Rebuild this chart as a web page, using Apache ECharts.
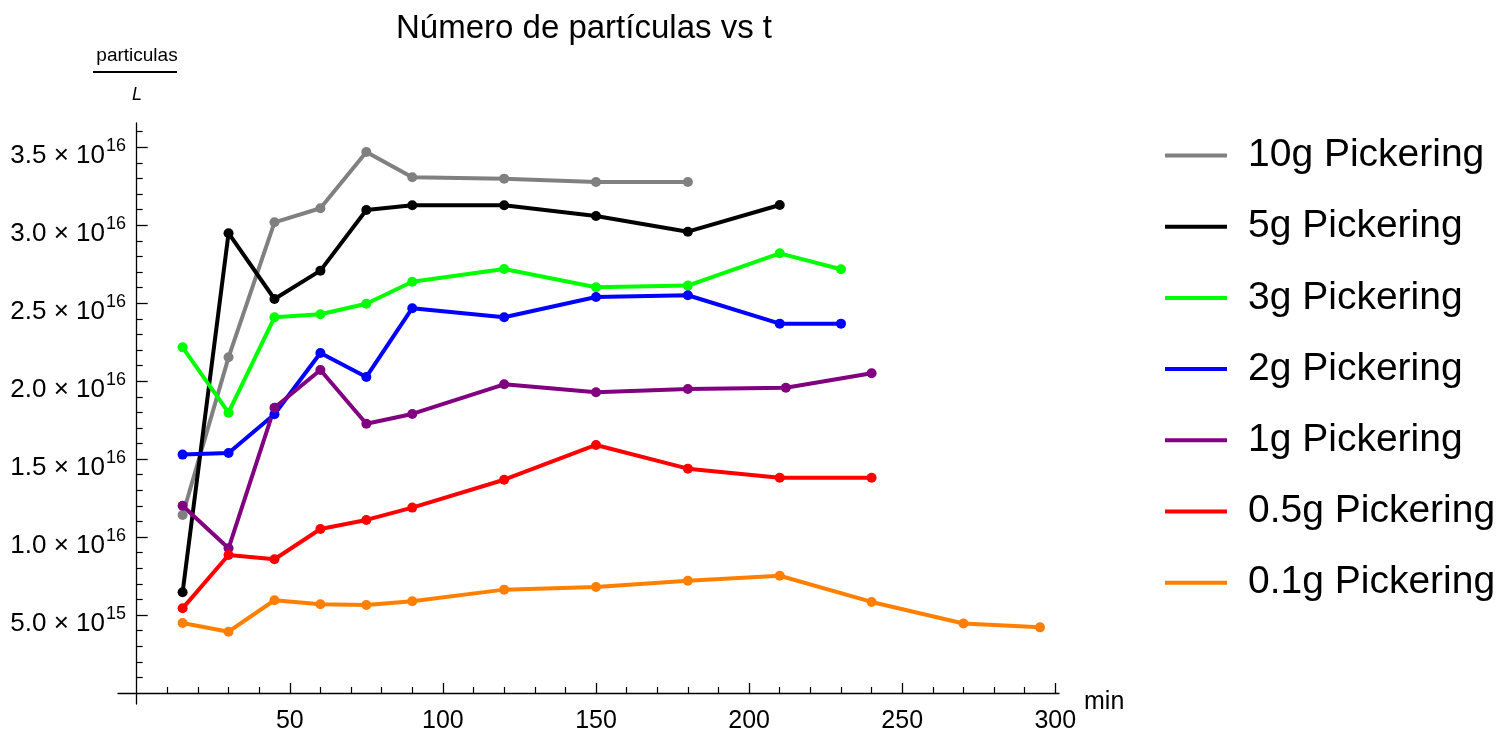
<!DOCTYPE html>
<html>
<head>
<meta charset="utf-8">
<script src="https://cdn.jsdelivr.net/npm/echarts@6/dist/echarts.min.js"></script>
<style>
  html, body { margin: 0; padding: 0; background: #fff; }
  #chart { width: 1506px; height: 732px; }
</style>
</head>
<body>
<div id="chart"></div>
<script>
// Particle concentration (particles per litre, in units of 1e15) against time in minutes
const seriesNames = ['10g Pickering', '5g Pickering', '3g Pickering', '2g Pickering',
                     '1g Pickering', '0.5g Pickering', '0.1g Pickering'];
const seriesColors = ['#808080', '#000000', '#00ff00', '#0000ff', '#800080', '#ff0000', '#ff8000'];

const t10g  = [15, 30, 45, 60, 75, 90, 120, 150, 180];
const v10g  = [11.42, 21.53, 30.19, 31.09, 34.70, 33.08, 32.99, 32.78, 32.78];

const t5g   = [15, 30, 45, 60, 75, 90, 120, 150, 180, 210];
const v5g   = [6.46, 29.49, 25.27, 27.09, 30.98, 31.28, 31.28, 30.60, 29.59, 31.30];

const t3g   = [15, 30, 45, 60, 75, 90, 120, 150, 180, 210, 230];
const v3g   = [22.17, 17.98, 24.10, 24.29, 24.97, 26.38, 27.20, 26.02, 26.13, 28.20, 27.18];

const t2g   = [15, 30, 45, 60, 75, 90, 120, 150, 180, 210, 230];
const v2g   = [15.29, 15.39, 17.88, 21.81, 20.27, 24.68, 24.10, 25.40, 25.51, 23.69, 23.69];

const t1g   = [15, 30, 45, 60, 75, 90, 120, 150, 180, 212, 240];
const v1g   = [12.01, 9.28, 18.30, 20.72, 17.27, 17.90, 19.80, 19.29, 19.50, 19.58, 20.51];

const t05g  = [15, 30, 45, 60, 75, 90, 120, 150, 180, 210, 240];
const v05g  = [5.43, 8.85, 8.58, 10.52, 11.10, 11.89, 13.68, 15.91, 14.39, 13.81, 13.81];

const t01g  = [15, 30, 45, 60, 75, 90, 120, 150, 180, 210, 240, 270, 295];
const v01g  = [4.49, 3.93, 5.95, 5.69, 5.64, 5.88, 6.63, 6.80, 7.20, 7.52, 5.84, 4.46, 4.21];

const xMajorTicks = [50, 100, 150, 200, 250, 300];
const yMajorTicks = [5, 10, 15, 20, 25, 30, 35];
const UNIT = 1e15;

const times = [t10g, t5g, t3g, t2g, t1g, t05g, t01g];
const values = [v10g, v5g, v3g, v2g, v1g, v05g, v01g];

const FONT = '"Liberation Sans", Arial, sans-serif';

const xMinorTicks = [];
for (let v = 10; v <= 300; v += 10) if (xMajorTicks.indexOf(v) < 0) xMinorTicks.push(v);
const yMinorTicks = [];
for (let v = 1; v <= 36; v += 1) if (yMajorTicks.indexOf(v) < 0) yMinorTicks.push(v);

function sciLabel(v) {
  const real = v * UNIT;
  const exp = Math.floor(Math.log10(real) + 1e-9);
  const mant = (real / Math.pow(10, exp)).toFixed(1);
  return '{a|' + mant + ' \u00d7 10}{b|' + exp + '}';
}

const X_MIN = -6.1, X_MAX = 301.2;
const Y_MIN = -0.706, Y_MAX = 36.56;

const series = seriesNames.map((name, i) => ({
  name: name,
  type: 'line',
  data: times[i].map((t, j) => [t, values[i][j]]),
  color: seriesColors[i],
  symbol: 'circle',
  symbolSize: 10,
  showSymbol: true,
  lineStyle: { width: 4, color: seriesColors[i] },
  itemStyle: { color: seriesColors[i] },
  emphasis: { disabled: true },
  animation: false
}));

const chart = echarts.init(document.getElementById('chart'), null, { renderer: 'canvas' });

chart.setOption({
  animation: false,
  backgroundColor: '#ffffff',
  title: {
    text: 'Número de partículas vs t',
    left: 396,
    top: 12,
    padding: 0,
    textStyle: { fontFamily: FONT, fontSize: 33, fontWeight: 'normal', color: '#000' }
  },
  legend: {
    orient: 'vertical',
    left: 1165,
    top: 135.5,
    padding: 0,
    icon: 'rect',
    itemWidth: 62,
    itemHeight: 4,
    itemGap: 31.2,
    data: seriesNames,
    textStyle: {
      fontFamily: FONT, fontSize: 39, color: '#000',
      lineHeight: 40, padding: [0, 0, 0, 16]
    },
    selectedMode: false
  },
  grid: { left: 118, right: 447, top: 123, bottom: 28, outerBoundsMode: 'none' },
  xAxis: [
    {
      type: 'value', min: X_MIN, max: X_MAX,
      name: 'min', nameLocation: 'end', nameGap: 25, nameMoveOverlap: false,
      nameTextStyle: { fontFamily: FONT, fontSize: 25, color: '#000', align: 'left',
                       verticalAlign: 'top', lineHeight: 18 },
      axisLine: { show: true, onZero: true, lineStyle: { color: '#000', width: 1.3 } },
      axisTick: { show: true, inside: true, length: 10, customValues: xMajorTicks,
                  lineStyle: { color: '#000', width: 1.3 } },
      axisLabel: { show: true, customValues: xMajorTicks, margin: 4.5,
                   fontFamily: FONT, fontSize: 25, color: '#000' },
      splitLine: { show: false }
    },
    {
      type: 'value', min: X_MIN, max: X_MAX, position: 'bottom',
      axisLine: { show: false, onZero: true },
      axisTick: { show: true, inside: true, length: 6, customValues: xMinorTicks,
                  lineStyle: { color: '#000', width: 1.2 } },
      axisLabel: { show: false },
      splitLine: { show: false }
    }
  ],
  yAxis: [
    {
      type: 'value', min: Y_MIN, max: Y_MAX,
      axisLine: { show: true, onZero: true, lineStyle: { color: '#000', width: 1.3 } },
      axisTick: { show: true, inside: true, length: 11, customValues: yMajorTicks,
                  lineStyle: { color: '#000', width: 1.3 } },
      axisLabel: {
        show: true, customValues: yMajorTicks, margin: -8,
        formatter: sciLabel,
        rich: {
          a: { fontFamily: FONT, fontSize: 26, lineHeight: 26, color: '#000',
               padding: [9, 0, 0, 0], verticalAlign: 'top' },
          b: { fontFamily: FONT, fontSize: 18, lineHeight: 18, color: '#000',
               padding: [3, 0, 0, 1], verticalAlign: 'top' }
        }
      },
      splitLine: { show: false }
    },
    {
      type: 'value', min: Y_MIN, max: Y_MAX, position: 'left',
      axisLine: { show: false, onZero: true },
      axisTick: { show: true, inside: true, length: 6, customValues: yMinorTicks,
                  lineStyle: { color: '#000', width: 1.2 } },
      axisLabel: { show: false },
      splitLine: { show: false }
    }
  ],
  graphic: [
    {
      type: 'text', x: 137, y: 56,
      style: { text: 'particulas', font: '19px "Liberation Sans", Arial, sans-serif', fill: '#000',
               align: 'center', verticalAlign: 'middle' }
    },
    {
      type: 'line',
      shape: { x1: 93, y1: 72, x2: 177, y2: 72 },
      style: { stroke: '#000', lineWidth: 2 }
    },
    {
      type: 'text', x: 137, y: 95,
      style: { text: 'L', font: 'italic 18px "Liberation Sans", Arial, sans-serif', fill: '#000',
               align: 'center', verticalAlign: 'middle' }
    }
  ],
  series: series
});
</script>
</body>
</html>
